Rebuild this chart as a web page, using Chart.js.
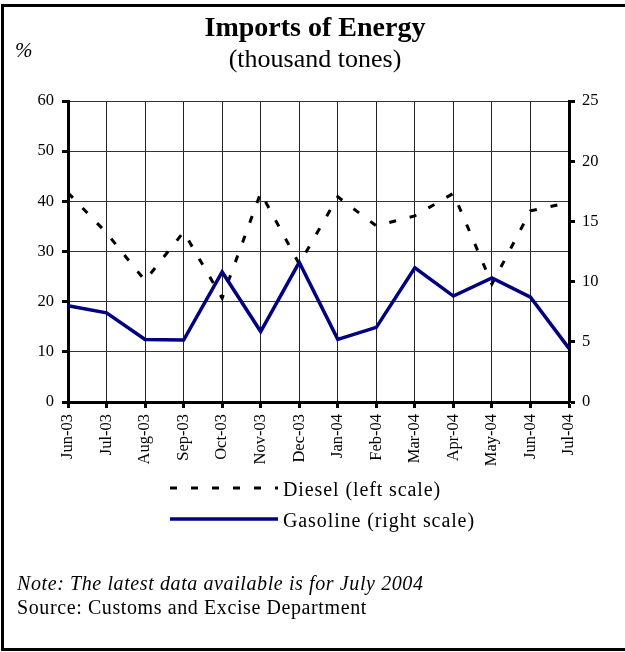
<!DOCTYPE html>
<html>
<head>
<meta charset="UTF-8">
<title>Imports of Energy</title>
<script src="https://cdn.jsdelivr.net/npm/chart.js"></script>
<style>
    body { margin: 0; background: #fff; }
    #page {
        position: relative; width: 625px; height: 652px; overflow: hidden;
        font-family: 'Liberation Serif', 'Times New Roman', serif; color: #000;
    }
    #frame {
        position: absolute; left: 1px; top: 4px; width: 700px; height: 647px; box-sizing: border-box;
        border-top: 3px solid #000; border-left: 3px solid #000; border-bottom: 3px solid #000;
    }
    .txt { position: absolute; line-height: 1; white-space: nowrap; }
    #title { left: 0; width: 630px; text-align: center; top: 13px; font-size: 28px; font-weight: bold; }
    #subtitle { left: 0; width: 630px; text-align: center; top: 46px; font-size: 26px; }
    #pct { left: 15px; top: 40px; font-size: 21px; font-style: italic; }
    .leg { left: 283px; font-size: 20px; letter-spacing: 0.9px; }
    .foot { left: 17px; font-size: 20px; letter-spacing: 0.6px; }
    canvas { position: absolute; left: 0; top: 0; }
</style>
</head>
<body>
<div id="page">
    <div id="frame"></div>
    <canvas id="chart" width="625" height="652"></canvas>
    <div class="txt" id="title">Imports of Energy</div>
    <div class="txt" id="subtitle">(thousand tones)</div>
    <div class="txt" id="pct">%</div>
    <div class="txt leg" style="top: 479px;">Diesel (left scale)</div>
    <div class="txt leg" style="top: 510px;">Gasoline (right scale)</div>
    <div class="txt foot" style="top: 573px; font-style: italic;">Note: The latest data available is for July 2004</div>
    <div class="txt foot" style="top: 597px;">Source: Customs and Excise Department</div>
</div>

<script>
    const months = ['Jun-03', 'Jul-03', 'Aug-03', 'Sep-03', 'Oct-03', 'Nov-03', 'Dec-03',
        'Jan-04', 'Feb-04', 'Mar-04', 'Apr-04', 'May-04', 'Jun-04', 'Jul-04'];
    // left scale
    const diesel = [41.7, 33.7, 24.2, 33.9, 20.7, 41.7, 27.5, 40.9, 35.1, 37.1, 41.6, 23.5, 38.1, 39.8];
    // right scale
    const gasoline = [8.0, 7.4, 5.2, 5.15, 10.8, 5.85, 11.6, 5.2, 6.2, 11.15, 8.8, 10.3, 8.7, 4.45];

    const tickFont = {family: "'Liberation Serif', 'Times New Roman', serif", size: 16.5};

    // legend samples drawn with each dataset's own line style
    const legendLines = {
        id: 'legendLines',
        afterDraw(chart) {
            const ctx = chart.ctx;
            const rows = [488, 519];
            chart.data.datasets.forEach((ds, i) => {
                ctx.save();
                ctx.strokeStyle = ds.borderColor;
                ctx.lineWidth = ds.borderWidth;
                ctx.setLineDash(ds.borderDash || []);
                ctx.beginPath();
                ctx.moveTo(170, rows[i]);
                ctx.lineTo(278, rows[i]);
                ctx.stroke();
                ctx.restore();
            });
        }
    };

    new Chart(document.getElementById('chart'), {
        type: 'line',
        data: {
            labels: months,
            datasets: [
                {
                    label: 'Diesel (left scale)',
                    data: diesel,
                    yAxisID: 'yL',
                    borderColor: '#000',
                    borderWidth: 3,
                    borderDash: [7, 14],
                    pointRadius: 0,
                    tension: 0,
                    order: 2
                },
                {
                    label: 'Gasoline (right scale)',
                    data: gasoline,
                    yAxisID: 'yR',
                    borderColor: '#000080',
                    borderWidth: 3.5,
                    pointRadius: 0,
                    tension: 0,
                    order: 1
                }
            ]
        },
        options: {
            responsive: false,
            animation: false,
            layout: {padding: {top: 101, left: 0, right: 0, bottom: 0}},
            plugins: {legend: {display: false}, tooltip: {enabled: false}, title: {display: false}},
            scales: {
                x: {
                    offset: false,
                    grid: {color: '#222', lineWidth: 1, tickColor: '#000', tickWidth: 3, tickLength: 6},
                    border: {color: '#000', width: 3},
                    ticks: {color: '#000', font: tickFont, minRotation: 90, maxRotation: 90, autoSkip: false, padding: 6},
                    afterFit: s => { s.height = 250; }
                },
                yL: {
                    position: 'left',
                    min: 0, max: 60,
                    grid: {color: '#333', lineWidth: 1, tickColor: '#000', tickWidth: 3, tickLength: 6},
                    border: {color: '#000', width: 3},
                    ticks: {stepSize: 10, color: '#000', font: tickFont, padding: 8},
                    afterFit: s => { s.width = 68; }
                },
                yR: {
                    position: 'right',
                    min: 0, max: 25,
                    grid: {drawOnChartArea: false, tickColor: '#000', tickWidth: 3, tickLength: 6},
                    border: {color: '#000', width: 3},
                    ticks: {stepSize: 5, color: '#000', font: tickFont, padding: 7},
                    afterFit: s => { s.width = 56; }
                }
            }
        },
        plugins: [legendLines]
    });
</script>
</body>
</html>
